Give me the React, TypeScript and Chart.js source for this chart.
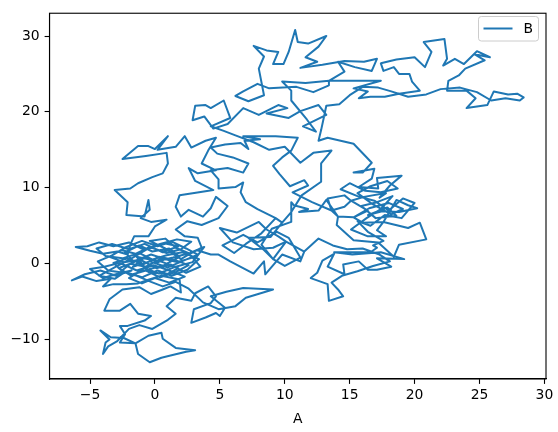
import React, { useEffect, useRef } from "react";
import { Chart, registerables } from "chart.js";
Chart.register(...registerables);

// Axis settings / tick labels
const xTickValues = [-5, 0, 5, 10, 15, 20, 25, 30];
const yTickValues = [-10, 0, 10, 20, 30];
const xLabel = "A";
const seriesName = "B";

// Random-walk path as [A, B] pairs, in drawing order
const walkCore: number[][] = [
  [0.0, 0.0], [0.8, 0.6], [-0.3, 1.2], [-1.5, 0.4], [-0.6, -0.8], [0.7, -0.2], [1.9, 0.9], [1.1, 2.0],
  [-0.2, 1.6], [-1.2, 2.4], [-2.3, 1.5], [-1.6, 0.2], [-2.8, -0.6], [-1.9, -1.5], [-0.7, -0.9], [0.4, -1.8],
  [1.6, -1.1], [2.6, -0.2], [1.5, 0.5], [0.3, 0.9], [-0.9, -0.1], [-2.1, 0.7], [-3.2, 0.1], [-2.4, -1.2],
  [-3.6, -0.9], [-4.4, 0.3], [-3.3, 1.1], [-2.2, 2.2], [-1.0, 3.0], [0.2, 2.3], [1.3, 2.9], [2.4, 2.0],
  [3.3, 1.2], [2.2, 0.4], [1.0, -0.5], [-0.4, 0.3], [-1.7, -0.4], [-0.8, 0.8], [0.6, 0.2], [1.8, -0.6],
  [0.9, -1.4], [-0.5, -1.1], [-1.4, 0.9], [-0.3, 0.5],
];

const walkCore2: number[][] = [
  [0.9, 1.1], [2.1, 1.5], [3.4, 0.6], [2.5, -0.8], [1.3, -1.6], [0.2, -0.9], [-1.0, -1.8], [-2.3, -1.1],
  [-3.1, -2.0], [-4.3, -1.6], [-3.0, -0.4], [-1.9, 0.6], [-0.6, 1.9], [0.7, 2.7], [1.8, 2.3], [0.6, 1.5],
  [-0.8, 2.6], [-2.0, 1.9], [-3.3, 2.6], [-4.5, 2.0], [-3.8, 1.0], [-2.5, 0.7], [-1.2, 1.4], [0.1, 0.3],
  [1.4, 0.8], [2.7, 1.4], [3.8, 2.2], [2.9, 0.2], [1.6, -0.4], [0.3, -1.3], [-0.8, -0.6], [-2.0, -1.9],
  [-1.0, -2.6], [0.0, -1.9], [1.1, -2.5], [2.3, -1.7], [1.1, -0.9], [-0.1, -0.2], [-1.4, -0.9], [-2.7, 0.1],
  [-3.9, -0.4], [-5.0, -0.7], [-4.0, -1.9], [-2.8, -1.3],
];

const walkLeftLow: number[][] = [
  [-1.8, -0.9], [-3.0, -1.6], [-4.2, -0.9], [-5.4, -1.4], [-6.4, -2.2], [-5.6, -1.7], [-4.5, -2.3],
  [-3.4, -2.0], [-4.0, -3.0], [-3.2, -2.7], [-2.2, -2.7], [-1.3, -2.6], [-0.5, -2.1], [0.5, -1.6],
  [1.9, -2.1], [2.0, -3.8], [1.2, -3.0], [0.6, -3.4], [-0.3, -4.0],
];

const walkSouth: number[][] = [
  [-1.2, -3.1], [-2.5, -3.4], [-3.5, -4.7], [-3.9, -6.2], [-2.7, -6.2], [-1.9, -5.3], [-1.3, -6.6],
  [-0.3, -6.9], [-0.8, -7.5], [-2.1, -8.2], [-2.7, -8.2], [-2.3, -9.3], [-2.7, -10.4], [-1.5, -10.5],
  [-0.5, -9.5], [0.5, -9.1], [0.6, -9.9], [1.6, -11.1], [3.1, -11.4], [2.4, -11.6], [1.2, -12.1],
  [0.5, -12.4], [-0.4, -13.0], [-1.3, -11.9], [-1.5, -10.5], [-2.4, -9.8], [-3.4, -9.7], [-4.2, -8.8],
  [-3.5, -10.0], [-3.8, -10.4], [-4.0, -11.9], [-3.6, -10.9], [-2.9, -10.2], [-2.0, -8.6], [-1.2, -8.1],
  [-0.2, -8.6], [1.0, -7.4], [1.6, -6.6], [0.9, -5.6], [1.6, -4.5], [2.8, -4.9], [3.1, -3.9], [4.1, -3.0],
  [4.7, -4.3], [4.3, -5.2], [3.0, -6.0], [2.8, -7.8], [3.9, -7.1], [4.7, -6.5], [5.0, -6.9], [5.4, -5.8],
  [4.3, -4.3], [5.5, -3.7], [6.8, -3.2], [9.1, -3.4], [7.0, -4.5], [6.2, -5.6], [4.9, -6.0], [3.7, -5.1],
  [2.6, -3.3], [1.6, -2.4], [0.6, -3.0], [-0.3, -2.4],
];

const walkWest: number[][] = [
  [-1.4, -1.6], [-2.6, -1.0], [-1.9, 0.0], [-0.7, -0.4], [0.5, 0.7], [1.7, 0.2], [2.9, 0.8], [3.5, -0.4],
  [2.4, -1.2], [1.2, -0.1], [0.1, -0.6], [-1.1, 0.5], [-2.4, 0.2], [-3.5, 0.9], [-2.6, 1.8], [-1.5, 1.3],
  [-0.4, 2.2], [0.9, 1.4], [2.0, 1.9], [2.8, 2.9], [1.7, 3.2], [0.4, 2.6], [-0.8, 1.8], [-2.0, 2.8],
  [-3.2, 2.3], [-4.3, 2.8], [-5.2, 2.3], [-6.1, 2.2], [-5.0, 1.7], [-4.0, 1.3], [-2.9, 1.6], [-2.1, 1.2],
  [-1.9, 2.5], [-1.6, 3.6], [-0.5, 3.6], [0.0, 4.9], [0.9, 5.8], [-0.3, 5.5], [-1.1, 6.0], [-0.4, 7.1],
  [-0.5, 8.4], [-0.8, 6.2], [-2.2, 6.4], [-2.1, 8.1], [-3.1, 9.7], [-1.9, 9.9], [-1.3, 10.6], [-0.2, 11.4],
  [0.6, 11.9], [1.0, 13.2], [0.9, 14.6], [-0.7, 14.2], [-2.5, 13.8], [-1.3, 15.5], [-0.5, 15.5], [0.0, 15.1],
  [1.0, 16.8], [0.2, 15.0], [1.6, 15.4], [2.3, 16.8], [2.8, 15.3], [3.9, 16.2], [4.7, 16.6], [4.1, 14.9],
  [3.6, 13.2], [4.7, 12.3], [3.3, 11.9], [2.6, 12.6], [3.1, 10.9], [4.5, 9.7], [3.4, 9.4], [1.9, 9.0],
  [1.6, 7.5], [2.0, 6.2], [2.6, 7.1], [3.7, 6.2], [4.3, 7.3], [4.7, 8.8], [5.6, 7.6], [4.9, 6.0],
  [3.6, 5.1], [2.5, 5.6], [1.6, 4.5], [2.3, 3.6], [3.3, 3.4], [3.6, 2.1], [2.7, 1.3], [1.6, 2.1],
  [0.8, 3.3], [-0.4, 3.0], [0.8, 2.0], [2.0, 0.6], [3.2, 1.8], [4.3, 1.2],
];

const walkMidLow: number[][] = [
  [4.9, 1.2], [5.8, 0.3], [7.6, -1.3], [8.4, 0.3], [8.5, -1.4], [9.8, 1.2], [11.2, 0.3], [11.5, 1.6],
  [10.1, 2.9], [9.1, 2.1], [7.6, 1.9], [6.0, 2.8], [5.0, 4.7], [6.3, 4.1], [8.0, 5.5], [8.6, 4.5],
  [9.5, 3.6], [10.1, 2.9], [9.1, 0.6], [8.4, 1.8], [7.2, 3.4], [8.9, 3.5], [9.8, 5.4], [9.3, 6.0],
  [8.2, 4.0], [7.0, 2.6], [6.1, 1.4], [5.2, 2.4], [6.8, 3.8], [7.9, 2.8], [9.4, 4.2], [10.3, 3.4],
  [11.2, 0.8], [10.0, -0.3], [9.1, 0.6], [8.2, 2.5], [9.0, 4.6], [10.5, 5.5],
];

const walkMid: number[][] = [
  [10.5, 8.1], [10.7, 7.7], [11.8, 7.2], [11.1, 6.8], [12.6, 7.0], [13.2, 8.4], [14.1, 6.2], [13.6, 7.0],
  [12.1, 8.1], [10.6, 9.4], [11.8, 10.3], [11.5, 11.0], [10.4, 10.2], [9.6, 11.8], [9.1, 12.9], [9.8, 14.0],
  [10.5, 14.9], [11.0, 16.6], [9.3, 16.8], [8.3, 16.8], [6.8, 16.8], [8.1, 16.4], [6.9, 16.2], [7.2, 15.1],
  [6.6, 15.9], [5.4, 15.7], [4.3, 15.3], [4.8, 14.5], [6.0, 14.0], [7.2, 13.2], [6.8, 12.0], [5.6, 12.6],
  [4.3, 12.3], [4.9, 11.1], [4.9, 9.9], [6.2, 10.1], [6.8, 10.7], [6.6, 9.4], [7.0, 8.1], [7.9, 7.2],
  [9.3, 6.0], [9.8, 5.4], [10.5, 6.8], [11.3, 9.0], [12.8, 10.8], [12.8, 13.2], [13.6, 14.9], [12.2, 14.6],
  [11.2, 13.3], [10.0, 15.4], [8.8, 15.0], [7.6, 16.0], [6.2, 16.9], [5.3, 17.5],
];

const walkNorth: number[][] = [
  [4.3, 18.1], [5.8, 19.2], [5.3, 21.5], [4.3, 20.5], [3.9, 20.9], [3.1, 20.8], [2.9, 18.9], [3.8, 19.4],
  [4.5, 17.8], [5.6, 18.4], [6.8, 20.5], [8.0, 19.6], [9.5, 20.9], [10.2, 20.5], [8.6, 19.8], [10.3, 19.2],
  [11.2, 20.1], [12.6, 20.9], [13.2, 19.6], [11.4, 18.1], [12.4, 17.4], [11.7, 19.0], [10.5, 21.5],
  [10.5, 22.8], [9.8, 24.0], [11.6, 23.8], [13.4, 24.1], [13.4, 23.5], [12.2, 22.6], [10.9, 23.3],
  [8.8, 23.1], [7.9, 23.7], [6.8, 22.7], [6.2, 22.1], [7.2, 21.4], [8.4, 22.2], [8.0, 25.7], [8.4, 27.3],
  [7.6, 28.7], [8.6, 28.1], [9.5, 27.9], [9.1, 26.3], [9.9, 26.3], [10.3, 27.9], [10.8, 30.8], [11.0, 29.2],
  [11.8, 29.0], [13.2, 30.0], [12.6, 28.6], [11.6, 27.2], [12.5, 26.6], [11.2, 25.8], [12.9, 26.2],
  [14.6, 26.7], [16.1, 26.6], [17.1, 27.0], [16.7, 25.4], [15.4, 25.9], [14.1, 26.6], [14.6, 25.3],
  [13.4, 24.1], [15.5, 24.1], [17.4, 24.1], [15.3, 23.1], [16.4, 22.7], [15.7, 21.8], [16.6, 22.0],
];

const walkNorthEast: number[][] = [
  [17.7, 22.0], [18.8, 22.4], [20.4, 22.8], [19.8, 24.0], [19.6, 25.0], [18.8, 25.0], [18.4, 25.9],
  [17.6, 25.4], [17.4, 26.4], [18.6, 26.9], [20.0, 27.2], [20.8, 25.9], [21.3, 27.9], [20.7, 29.2],
  [22.3, 29.6], [22.5, 27.0], [22.2, 26.1], [23.1, 27.0], [23.8, 26.3], [24.8, 28.0], [25.8, 27.2],
  [24.6, 27.6], [25.4, 26.8], [23.9, 25.7], [23.4, 24.8], [22.6, 24.1], [22.5, 22.8], [24.0, 22.8],
  [24.7, 21.8], [24.0, 20.5], [25.6, 20.9], [26.1, 22.7], [27.2, 22.3], [27.9, 22.4], [28.4, 21.9],
  [28.1, 21.5], [27.0, 21.8], [25.9, 21.5], [24.8, 22.6], [23.5, 23.2], [22.0, 23.0], [20.9, 22.3],
  [19.5, 22.0], [18.2, 22.7], [17.2, 23.2], [16.0, 23.3], [15.0, 22.2], [14.2, 21.0], [13.2, 20.8],
  [13.0, 19.2], [12.8, 17.6], [12.6, 16.2],
];

const walkEast: number[][] = [
  [13.3, 16.6], [15.3, 15.8], [16.7, 13.3], [16.0, 12.0], [15.3, 12.0], [16.9, 12.5], [16.7, 11.2],
  [15.7, 10.1], [17.2, 9.9], [17.1, 11.3], [19.0, 11.6], [18.1, 10.3], [17.3, 8.7], [17.8, 9.3],
  [16.1, 8.8], [15.1, 8.3], [14.6, 9.0], [13.3, 8.6], [13.6, 7.0], [14.6, 7.5], [15.1, 8.3], [16.4, 7.0],
  [15.3, 6.1], [16.0, 5.4], [17.6, 5.5], [18.6, 8.4], [19.5, 7.7], [20.2, 7.3], [18.8, 6.8], [17.5, 6.9],
  [16.4, 6.4], [17.9, 7.4], [18.6, 6.3], [17.0, 6.0], [15.9, 7.6], [17.1, 8.1], [18.3, 8.9], [17.4, 7.2],
  [16.3, 6.0], [15.1, 4.5], [16.4, 3.6], [17.8, 3.6], [17.1, 4.4], [17.6, 5.5], [19.5, 4.7], [20.4, 5.4],
  [20.9, 3.2], [18.8, 2.5], [18.4, 0.9], [17.2, 2.8], [15.3, 3.1], [14.0, 5.1], [14.1, 6.2], [15.3, 6.1],
];

const walkEast2: number[][] = [
  [16.5, 7.3], [18.0, 8.0], [19.1, 7.2], [18.2, 6.5], [16.8, 7.8], [15.6, 9.3], [16.6, 10.2], [17.9, 10.9],
  [18.7, 9.9], [17.4, 9.4], [16.2, 9.6], [15.0, 10.6], [14.3, 9.8], [15.6, 8.9], [16.9, 8.3], [18.0, 7.0],
  [19.1, 8.6], [20.0, 8.0], [19.0, 6.0], [17.7, 6.4], [16.6, 5.0], [15.6, 5.6], [16.4, 4.2], [17.6, 3.0],
  [16.8, 2.4],
];

const walkSouthEast: number[][] = [
  [17.1, 2.1], [16.6, 1.5], [13.8, 1.5], [15.2, 1.2], [17.4, 1.5], [19.2, 0.6], [17.1, 0.7], [18.2, -0.4],
  [17.1, -0.8], [16.4, -0.8], [15.7, 0.3], [14.5, -0.1], [14.6, -1.4], [13.3, -0.4], [13.8, 1.3],
  [12.9, 0.4], [12.5, -1.2], [12.0, -1.9], [13.3, -2.7], [13.4, -4.9], [14.5, -4.3], [14.1, -3.4],
  [13.6, -2.5], [14.4, -1.6], [15.6, -1.0], [16.8, -0.3], [18.1, 0.3], [17.3, 1.2], [16.0, 2.0],
  [14.8, 1.9], [13.7, 2.4], [12.6, 3.3], [11.5, 1.6],
];

const walkParts = [
  walkCore, walkCore2, walkLeftLow, walkSouth, walkWest, walkMidLow, walkMid,
  walkNorth, walkNorthEast, walkEast, walkEast2, walkSouthEast,
];

const X_MIN = -8.12;
const X_MAX = 30.12;
const Y_MIN = -15.2;
const Y_MAX = 33.0;

const FONT = "DejaVu Sans";
const FS = 13.9;

const fmt = (v: number) => (v < 0 ? "\u2212" + Math.abs(v) : String(v));

export default function App() {
  const ref = useRef<HTMLCanvasElement>(null);

  useEffect(() => {
    const canvas = ref.current!;
    const data = walkParts.flat().map(([a, b]) => ({ x: a, y: b }));

    const framePlugin = {
      id: "mplFrameLegend",
      afterDraw(chart: any) {
        const c = chart.ctx as CanvasRenderingContext2D;
        const ca = chart.chartArea;
        c.save();
        c.strokeStyle = "#000";
        c.lineWidth = 1.1;
        c.strokeRect(ca.left, ca.top, ca.right - ca.left, ca.bottom - ca.top);

        const x0 = 478.5, y0 = 16.5, w = 60, h = 24.5;
        c.beginPath();
        (c as any).roundRect(x0, y0, w, h, 2.8);
        c.fillStyle = "rgba(255,255,255,0.8)";
        c.fill();
        c.strokeStyle = "#cccccc";
        c.lineWidth = 1;
        c.stroke();
        c.beginPath();
        c.moveTo(483.5, 28.5);
        c.lineTo(512.5, 28.5);
        c.strokeStyle = "#1f77b4";
        c.lineWidth = 2;
        c.stroke();
        c.fillStyle = "#000";
        c.font = `${FS}px "${FONT}"`;
        c.textBaseline = "middle";
        c.textAlign = "left";
        c.fillText(seriesName, 523.5, 29);
        c.restore();
      },
    };

    const tickFont = { family: FONT, size: FS };

    const chart = new Chart(canvas, {
      type: "scatter",
      data: {
        datasets: [
          {
            label: seriesName,
            data,
            showLine: true,
            borderColor: "#1f77b4",
            backgroundColor: "#1f77b4",
            borderWidth: 2,
            borderJoinStyle: "round",
            pointRadius: 0,
            tension: 0,
          },
        ],
      },
      options: {
        animation: false,
        responsive: false,
        devicePixelRatio: 1,
        layout: { padding: { top: 9.5, right: 12, left: 0, bottom: 0 } },
        plugins: { legend: { display: false }, tooltip: { enabled: false } },
        scales: {
          x: {
            type: "linear",
            min: X_MIN,
            max: X_MAX,
            afterBuildTicks: (s: any) => {
              s.ticks = xTickValues.map((v) => ({ value: v }));
            },
            afterFit: (s: any) => {
              s.height = 53;
            },
            grid: { drawOnChartArea: false, drawTicks: true, tickLength: 4.9, tickWidth: 1.1, tickColor: "#000" },
            border: { color: "#000", width: 1.1 },
            ticks: {
              color: "#000",
              font: tickFont,
              padding: 3,
              maxRotation: 0,
              autoSkip: false,
              callback: (v: any) => fmt(Number(v)),
            },
            title: {
              display: true,
              text: xLabel,
              color: "#000",
              font: tickFont,
              padding: { top: 0, bottom: 4.5 },
            },
          },
          y: {
            type: "linear",
            min: Y_MIN,
            max: Y_MAX,
            afterBuildTicks: (s: any) => {
              s.ticks = yTickValues.map((v) => ({ value: v }));
            },
            afterFit: (s: any) => {
              s.width = 49.5;
            },
            grid: { drawOnChartArea: false, drawTicks: true, tickLength: 4.9, tickWidth: 1.1, tickColor: "#000" },
            border: { color: "#000", width: 1.1 },
            ticks: {
              color: "#000",
              font: tickFont,
              padding: 4.9,
              autoSkip: false,
              callback: (v: any) => fmt(Number(v)),
            },
          },
        },
      },
      plugins: [framePlugin],
    });

    return () => chart.destroy();
  }, []);

  return (
    <div style={{ position: "fixed", left: 0, top: 0, width: 558, height: 432, background: "#fff" }}>
      <canvas ref={ref} width={558} height={432} style={{ display: "block" }} />
    </div>
  );
}
